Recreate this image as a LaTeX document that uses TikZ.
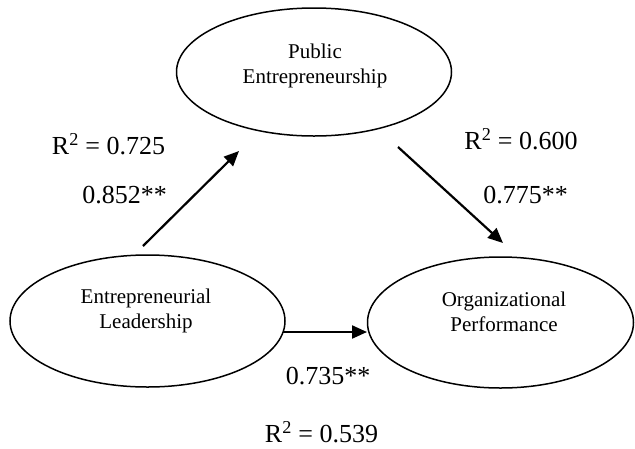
\documentclass[tikz,border=0pt]{standalone}
\usepackage{fontspec}
\setmainfont{Liberation Serif}
\usetikzlibrary{shapes.geometric,arrows.meta}
\tikzset{
  construct/.style={draw, ellipse, line width=1.5pt, inner sep=0pt},
  ctext/.style={font=\fontsize{21}{25}\selectfont, align=center},
  lab/.style={font=\fontsize{26}{30}\selectfont, inner sep=0pt},
  arr/.style={line width=2.2pt, -{Triangle[length=15pt,width=13pt]}}
}
\begin{document}
\begin{tikzpicture}[x=1pt,y=-1pt]
\useasboundingbox (0,0) rectangle (635,448);
\node[construct, minimum width=275pt, minimum height=128pt] (PE) at (314,72) {};
\node[construct, minimum width=275pt, minimum height=132pt] (EL) at (147.5,321) {};
\node[construct, minimum width=266pt, minimum height=131pt] (OP) at (500.5,322.5) {};
\node[ctext] (PEt) at (315,66) {Public\\Entrepreneurship};
\node[ctext] (ELt) at (146,311) {Entrepreneurial\\Leadership};
\node[ctext] (OPt) at (504,312) {Organizational\\Performance};
\draw[arr] ([shift={(-4.5,-75)}]EL.center) -- ([shift={(-75,79)}]PE.center);
\draw[arr] ([shift={(84,75)}]PE.center) -- ([shift={(2.5,-79.5)}]OP.center);
\draw[arr] ([shift={(135.5,11)}]EL.center) -- ([shift={(-133.5,9.5)}]OP.center);
\node[lab] (r1) at (108.5,144) {R\textsuperscript{2} = 0.725};
\node[lab] (c1) at (124.5,195) {0.852**};
\node[lab] (r2) at (521,139) {R\textsuperscript{2} = 0.600};
\node[lab] (c2) at (525.5,195) {0.775**};
\node[lab] (c3) at (328,376) {0.735**};
\node[lab] (r3) at (321.5,432) {R\textsuperscript{2} = 0.539};
\end{tikzpicture}
\end{document}
